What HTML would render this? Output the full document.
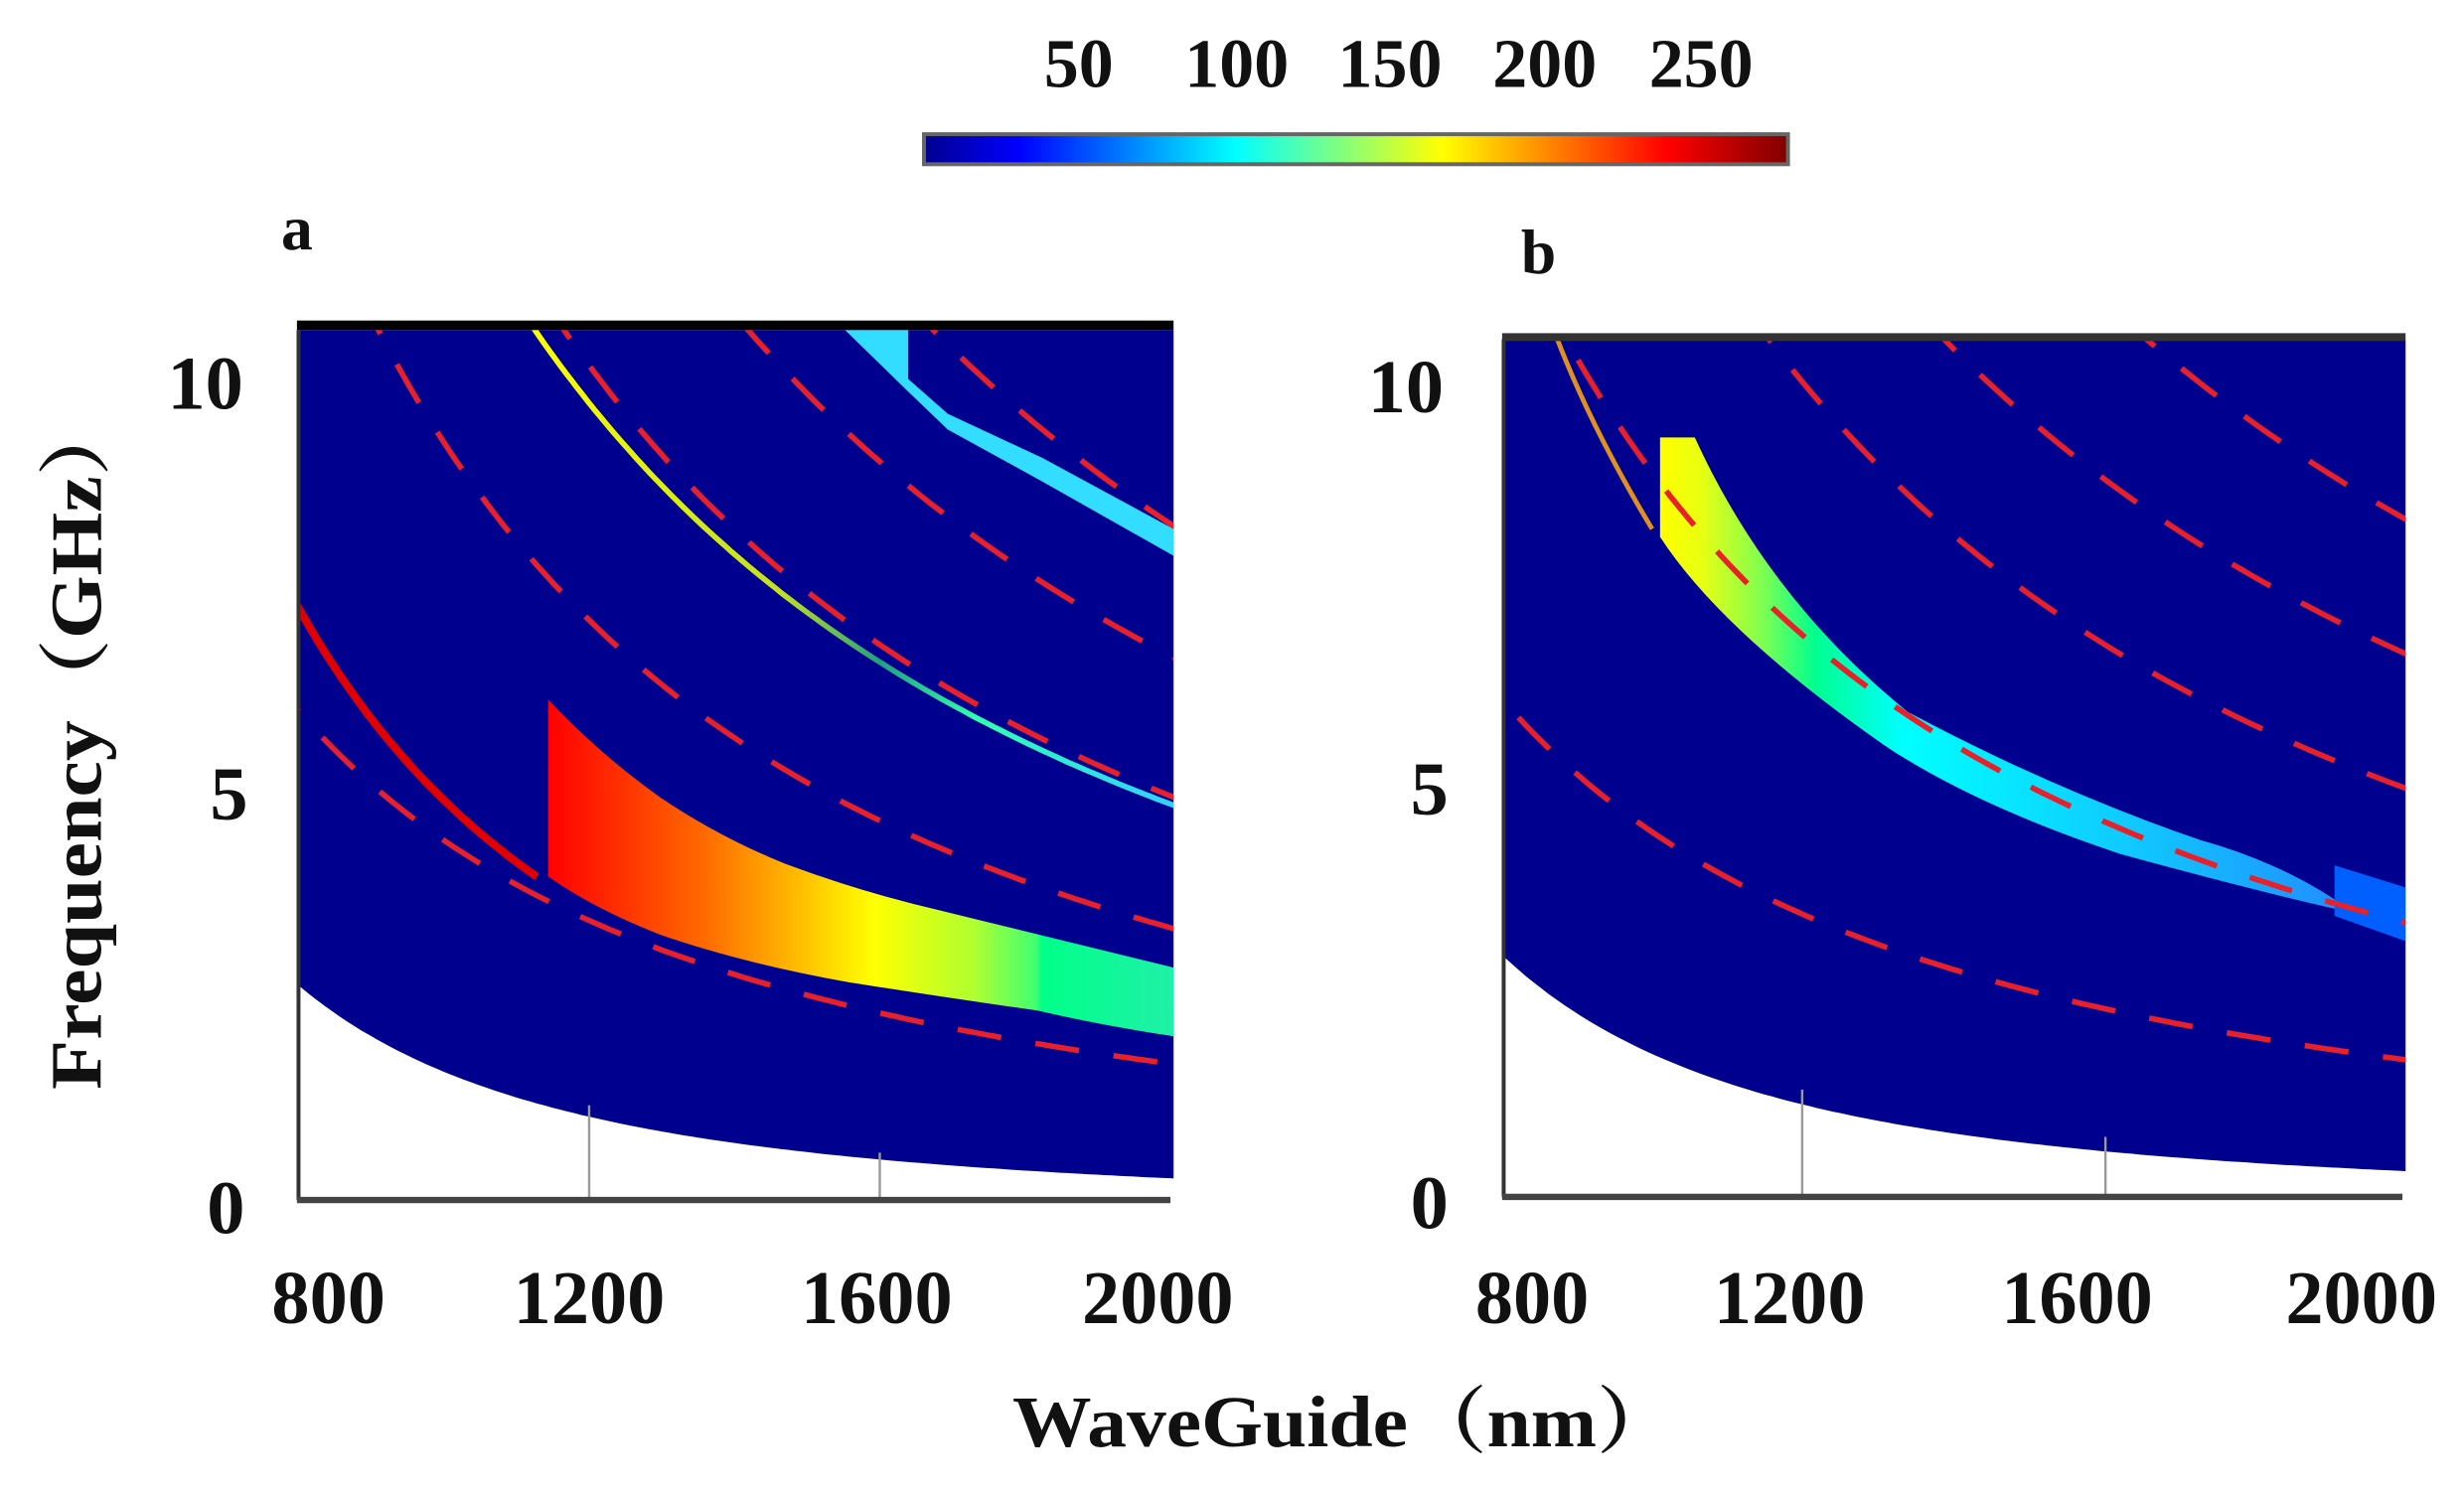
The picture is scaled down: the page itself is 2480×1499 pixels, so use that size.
<!DOCTYPE html>
<html><head><meta charset="utf-8"><style>html,body{margin:0;padding:0;background:#fff}svg{display:block}</style></head>
<body>
<svg id="s" xmlns="http://www.w3.org/2000/svg" width="2480" height="1499" viewBox="0 0 1560 943" preserveAspectRatio="none">
<defs>
<linearGradient id="jet" x1="0" x2="1" y1="0" y2="0">
<stop offset="0" stop-color="#00008f"/><stop offset="0.11" stop-color="#0000ff"/><stop offset="0.36" stop-color="#00ffff"/><stop offset="0.6" stop-color="#ffff00"/><stop offset="0.86" stop-color="#ff0000"/><stop offset="1" stop-color="#800000"/>
</linearGradient>
<linearGradient id="ga" gradientUnits="userSpaceOnUse" x1="347" x2="743" y1="0" y2="0">
<stop offset="0" stop-color="#ff0000"/><stop offset="0.25" stop-color="#ff6a00"/><stop offset="0.52" stop-color="#ffff00"/><stop offset="0.68" stop-color="#b0ff30"/><stop offset="0.78" stop-color="#40ff70"/><stop offset="0.79" stop-color="#00ff88"/><stop offset="1" stop-color="#20f0a8"/>
</linearGradient>
<linearGradient id="gb" gradientUnits="userSpaceOnUse" x1="1051" x2="1480" y1="0" y2="0">
<stop offset="0" stop-color="#ffff00"/><stop offset="0.06" stop-color="#e8ff10"/><stop offset="0.15" stop-color="#80ff50"/><stop offset="0.23" stop-color="#00ff90"/><stop offset="0.36" stop-color="#00ffff"/><stop offset="0.7" stop-color="#10c8ff"/><stop offset="1" stop-color="#2090ff"/>
</linearGradient>
<linearGradient id="gy" gradientUnits="userSpaceOnUse" x1="330" x2="743" y1="0" y2="0">
<stop offset="0" stop-color="#ffff00"/><stop offset="0.4" stop-color="#c0e020"/><stop offset="0.55" stop-color="#20a080"/><stop offset="0.7" stop-color="#30ffb0"/><stop offset="1" stop-color="#30d0ff"/>
</linearGradient>
<clipPath id="ca"><rect x="188" y="209" width="555" height="551"/></clipPath>
<clipPath id="cb"><rect x="951" y="215" width="572" height="543"/></clipPath>
</defs>
<g font-family="Liberation Serif, serif" font-weight="bold" fill="#111">
<rect x="585" y="85" width="547" height="19" fill="url(#jet)" stroke="#666" stroke-width="2.5"/>
<g font-size="44" text-anchor="middle">
<text x="683" y="55">50</text><text x="783" y="55">100</text><text x="880" y="55">150</text><text x="978" y="55">200</text><text x="1077" y="55">250</text>
</g>
<text x="178" y="158" font-size="40">a</text>
<text x="963" y="173" font-size="40">b</text>
<g clip-path="url(#ca)">
<path id="blueA" fill="#00008f"/>
<polygon points="535,209 575,209 575,240 600,262 660,290 743,335 743,352 660,305 600,272 575,248" fill="#33ddff"/>
<path id="bandA" fill="url(#ga)"/>
<path id="yelA" fill="none" stroke="url(#gy)" stroke-width="3.5"/>
<path id="redA" fill="none" stroke="#e00000" stroke-width="5"/>
<g id="dashA" fill="none" stroke="#e8202a" stroke-width="3.5" stroke-dasharray="28 22"></g>
</g>
<rect x="188" y="203" width="555" height="6" fill="#000"/>
<line x1="189" y1="209" x2="189" y2="760" stroke="#333" stroke-width="2.5"/>
<line x1="373" y1="700" x2="373" y2="760" stroke="#999" stroke-width="1.5"/>
<line x1="557" y1="730" x2="557" y2="760" stroke="#999" stroke-width="1.5"/>
<line x1="188" y1="760" x2="741" y2="760" stroke="#444" stroke-width="4"/>
<g clip-path="url(#cb)">
<path id="blueB" fill="#00008f"/>
<path d="M1051,277 L1073,277 Q1120,380 1208,451 Q1300,500 1393,532 Q1450,548 1490,578 Q1450,570 1343,541 Q1250,510 1193,472 Q1090,400 1051,340 Z" fill="url(#gb)"/>
<polygon points="1478,548 1523,562 1523,596 1478,580" fill="#0060ff"/>
<path d="M986,215 Q1008,272 1046,335" fill="none" stroke="#e09020" stroke-width="3"/>
<g id="dashB" fill="none" stroke="#e8202a" stroke-width="3.5" stroke-dasharray="28 22"></g>
</g>
<rect x="951" y="211" width="572" height="5" fill="#333"/>
<line x1="952" y1="215" x2="952" y2="758" stroke="#333" stroke-width="2.5"/>
<line x1="1141" y1="690" x2="1141" y2="758" stroke="#999" stroke-width="1.5"/>
<line x1="1333" y1="720" x2="1333" y2="758" stroke="#999" stroke-width="1.5"/>
<line x1="951" y1="758" x2="1521" y2="758" stroke="#444" stroke-width="4"/>
<g font-size="48" text-anchor="middle">
<text x="130" y="259">10</text><text x="145" y="519">5</text><text x="143" y="781">0</text>
<text x="890" y="261">10</text><text x="905" y="516">5</text><text x="905" y="778">0</text>
<text x="208" y="838">800</text><text x="373" y="838">1200</text><text x="555" y="838">1600</text><text x="733" y="838">2000</text>
<text x="970" y="838">800</text><text x="1133" y="838">1200</text><text x="1315" y="838">1600</text><text x="1495" y="838">2000</text>
</g>
<text x="641" y="916" font-size="46" textLength="420" lengthAdjust="spacingAndGlyphs" font-family="Liberation Serif, Noto Serif CJK SC, serif">WaveGuide（nm）</text>
<text transform="translate(64,690) rotate(-90)" font-size="46" textLength="440" lengthAdjust="spacingAndGlyphs" font-family="Liberation Serif, Noto Serif CJK SC, serif">Frequency（GHz）</text>
</g>
<script>
function XA(w){return 373+(w-1200)*0.46}function YA(f){return 765-52.2*f}
function XB(w){return 1141+(w-1200)*0.48}function YB(f){return 760-51.5*f}
function curve(X,Y,fn,w0,w1){var s="";for(var i=0;i<=120;i++){var w=w0+(w1-w0)*i/120;s+=(i?"L":"M")+X(w).toFixed(1)+","+Y(fn(w)).toFixed(1)}return s}
(function(){var pts=[];for(var i=0;i<=120;i++){var w=795+(2010-795)*i/120;pts.push(XA(w).toFixed(1)+","+YA(2.7*Math.pow(800/w,2.2)).toFixed(1))}
document.getElementById("blueA").setAttribute("d","M180,200L750,200L"+pts.slice().reverse().join("L")+"L180,"+YA(2.7).toFixed(1)+"Z");
pts=[];for(var i=0;i<=120;i++){var w=795+(2010-795)*i/120;pts.push(XB(w).toFixed(1)+","+YB(3.05*Math.pow(800/w,2.35)).toFixed(1))}
document.getElementById("blueB").setAttribute("d","M940,205L1530,205L"+pts.slice().reverse().join("L")+"L940,"+YB(3.05).toFixed(1)+"Z");})();
document.getElementById("bandA").setAttribute("d","M347,443 Q380,478 418,505 Q455,530 497,547 Q545,565 597,577 Q670,595 748,614 L748,657 Q700,650 657,640 Q600,632 537,622 Q470,610 418,592 Q375,575 347,555 Z");
document.getElementById("yelA").setAttribute("d",curve(XA,YA,function(w){return 4.9*Math.pow(2000/w,1.35)},1100,2010));
document.getElementById("redA").setAttribute("d",curve(XA,YA,function(w){return 7.28*Math.pow(800/w,1.73)},790,1128));
var ns="http://www.w3.org/2000/svg";
function addD(g,X,Y,list){var el=document.getElementById(g);list.forEach(function(c){var p=document.createElementNS(ns,"path");p.setAttribute("d",curve(X,Y,function(w){return c[0]*Math.pow(2000/w,c[1])},700,2050));el.appendChild(p)})}
addD("dashA",XA,YA,[[1.75,1.35],[3.4,1.45],[5.0,1.4],[6.7,1.35],[8.3,1.4]]);
addD("dashB",XB,YB,[[1.72,1.4],[3.4,1.4],[5.05,1.35],[6.7,1.25],[8.35,1.25]]);
</script>
</svg>
</body></html>
